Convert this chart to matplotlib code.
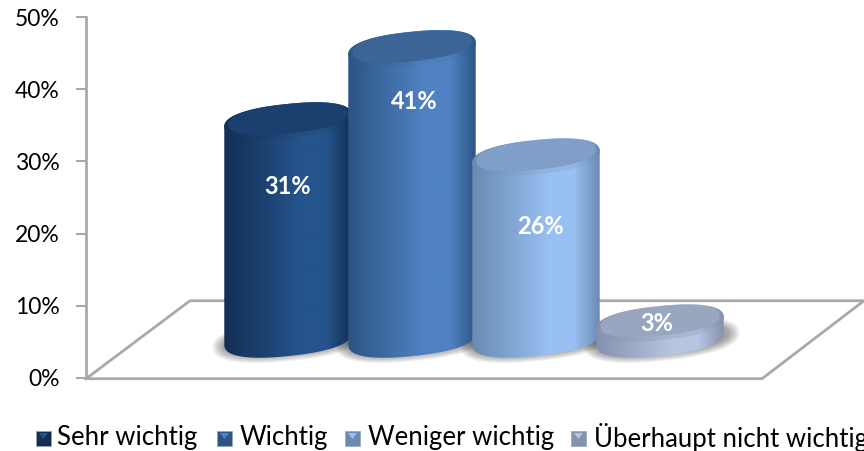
import matplotlib
matplotlib.use('Agg')
import matplotlib.pyplot as plt
from matplotlib.colors import LinearSegmentedColormap
from matplotlib.patches import Polygon, Rectangle
import numpy as np

plt.rcParams['font.family'] = ['Lato', 'DejaVu Sans']

categories = ['Sehr wichtig', 'Wichtig', 'Weniger wichtig', 'Überhaupt nicht wichtig']
values = [31, 41, 26, 3]
value_labels = ['31%', '41%', '26%', '3%']
y_ticks = [0, 10, 20, 30, 40, 50]

# colours: side edge, side middle, top face, top rim
edge_cols = ['#132e55', '#2c5585', '#6a8ab2', '#8591ae']
mid_cols = ['#25548c', '#5082c2', '#98c0f2', '#b8c5e0']
top_cols = ['#1b3f6e', '#3c6496', '#7f9fc8', '#98a6c0']
rim_cols = ['#24507f', '#4d7fbb', '#93b5e2', '#aab6d2']

PX_X = 124.0    # pixels for one category
PX_Y = 7.22     # pixels for one percent
BASE = 5.4      # centre of the cylinder foot, in percent
LIFT = 4.6      # top of a cylinder = value + LIFT
A, B, TILT = 64.0, 17.0, np.radians(6)
ROUND = 0.85    # below 1 gives the fuller shoulders of the original
label_dy = [-66, -53, -69, 0]   # pixels above the top centre
label_dx = [0, 2, 4, -3]

fig = plt.figure(figsize=(8.64, 4.51), dpi=100)
ax = fig.add_axes([86 / 864, 1 - 378 / 451, (864 - 86) / 864, 361 / 451])
ax.set_xlim((86 - 288) / PX_X, (864 - 288) / PX_X)
ax.set_ylim(0, 50)
ax.autoscale(False)
ax.patch.set_alpha(0)


def ellipse(cx, cy, a=A, b=B):
    t = np.linspace(0, 2 * np.pi, 400, endpoint=False)
    c = np.sign(np.cos(t)) * np.abs(np.cos(t)) ** ROUND
    s = np.sign(np.sin(t)) * np.abs(np.sin(t)) ** ROUND
    dx = a * c * np.cos(TILT) - b * s * np.sin(TILT)
    dy = a * c * np.sin(TILT) + b * s * np.cos(TILT)
    return np.column_stack([cx + dx / PX_X, cy + dy / PX_Y])


def half(pts, upper):
    # the part of an outline between its leftmost and rightmost point
    r = np.roll(pts, -np.argmax(pts[:, 0]), axis=0)
    left = np.argmin(r[:, 0])
    if upper:
        return r[:left + 1]
    return np.vstack([r[left:], r[:1]])


def shaded(pts, c1, c2, z):
    # horizontal gradient clipped to the outline
    cmap = LinearSegmentedColormap.from_list('c', [(0, c1), (0.6, c2), (0.8, c2), (1, c1)])
    poly = Polygon(pts, closed=True, facecolor='none', edgecolor='none', transform=ax.transData)
    ax.add_patch(poly)
    ext = (pts[:, 0].min(), pts[:, 0].max(), pts[:, 1].min(), pts[:, 1].max())
    im = ax.imshow(np.linspace(0, 1, 256)[None, :], cmap=cmap, extent=ext, aspect='auto', zorder=z)
    im.set_clip_path(poly)


# floor
floor_x = np.array([86, 762, 864, 190, 86])
floor_y = np.array([-0.1, -0.1, 10.7, 10.7, -0.1])
ax.plot((floor_x - 288) / PX_X, floor_y, color='#a9a9a9', lw=2, zorder=1, clip_on=False)

ax.spines[['top', 'right', 'bottom']].set_visible(False)
ax.spines['left'].set_color('#a9a9a9')
ax.spines['left'].set_linewidth(2)
ax.set_xticks([])
ax.set_yticks(y_ticks)
ax.set_yticklabels([f'{v}%' for v in y_ticks], fontsize=16.5, color='black')
ax.tick_params(axis='y', length=7, width=1.5, color='#a9a9a9', pad=12)

for i, val in enumerate(values):
    z = 5 + i * 2
    top = val + LIFT
    # soft shadow on the floor
    for k in range(8):
        s = ellipse(i + 2 / PX_X, BASE - 1 / PX_Y, A + 14 - k * 1.6, B + 4 - k)
        ax.fill(s[:, 0], s[:, 1], color='black', alpha=0.05, lw=0, zorder=3)
    # body: lower half of the foot, then upper half of the top
    body = np.vstack([half(ellipse(i, BASE), False), half(ellipse(i, top), True)])
    shaded(body, edge_cols[i], mid_cols[i], z)
    # top face with bevel
    shaded(ellipse(i, top), edge_cols[i], rim_cols[i], z + 0.2)
    inner = ellipse(i, top + 2 / PX_Y, A - 4, B - 2.5)
    ax.fill(inner[:, 0], inner[:, 1], color=top_cols[i], lw=0, zorder=z + 0.4)
    ax.text(i + label_dx[i] / PX_X, top + label_dy[i] / PX_Y, value_labels[i], color='white',
            fontsize=17, fontweight='bold', ha='center', va='center', zorder=20)

# legend, the last entry runs off the picture as in the original
over = fig.add_axes([0, 0, 1, 1])
over.set_xlim(0, 864)
over.set_ylim(451, 0)
over.axis('off')
legend_x = [36, 217, 345, 571]
text_x = [57, 240, 368, 594]
for name, col, mid, lx, tx in zip(categories, edge_cols, mid_cols, legend_x, text_x):
    over.add_patch(Rectangle((lx, 431), 15, 15, facecolor=col, edgecolor='#9aa5b5', lw=0.5))
    over.add_patch(Polygon([(lx + 3, 433), (lx + 12, 433), (lx + 7.5, 439)], facecolor=mid, lw=0))
    over.text(tx, 438, name, fontsize=18.5, color='black', va='center', ha='left')

fig.savefig('out.png', dpi=100)
